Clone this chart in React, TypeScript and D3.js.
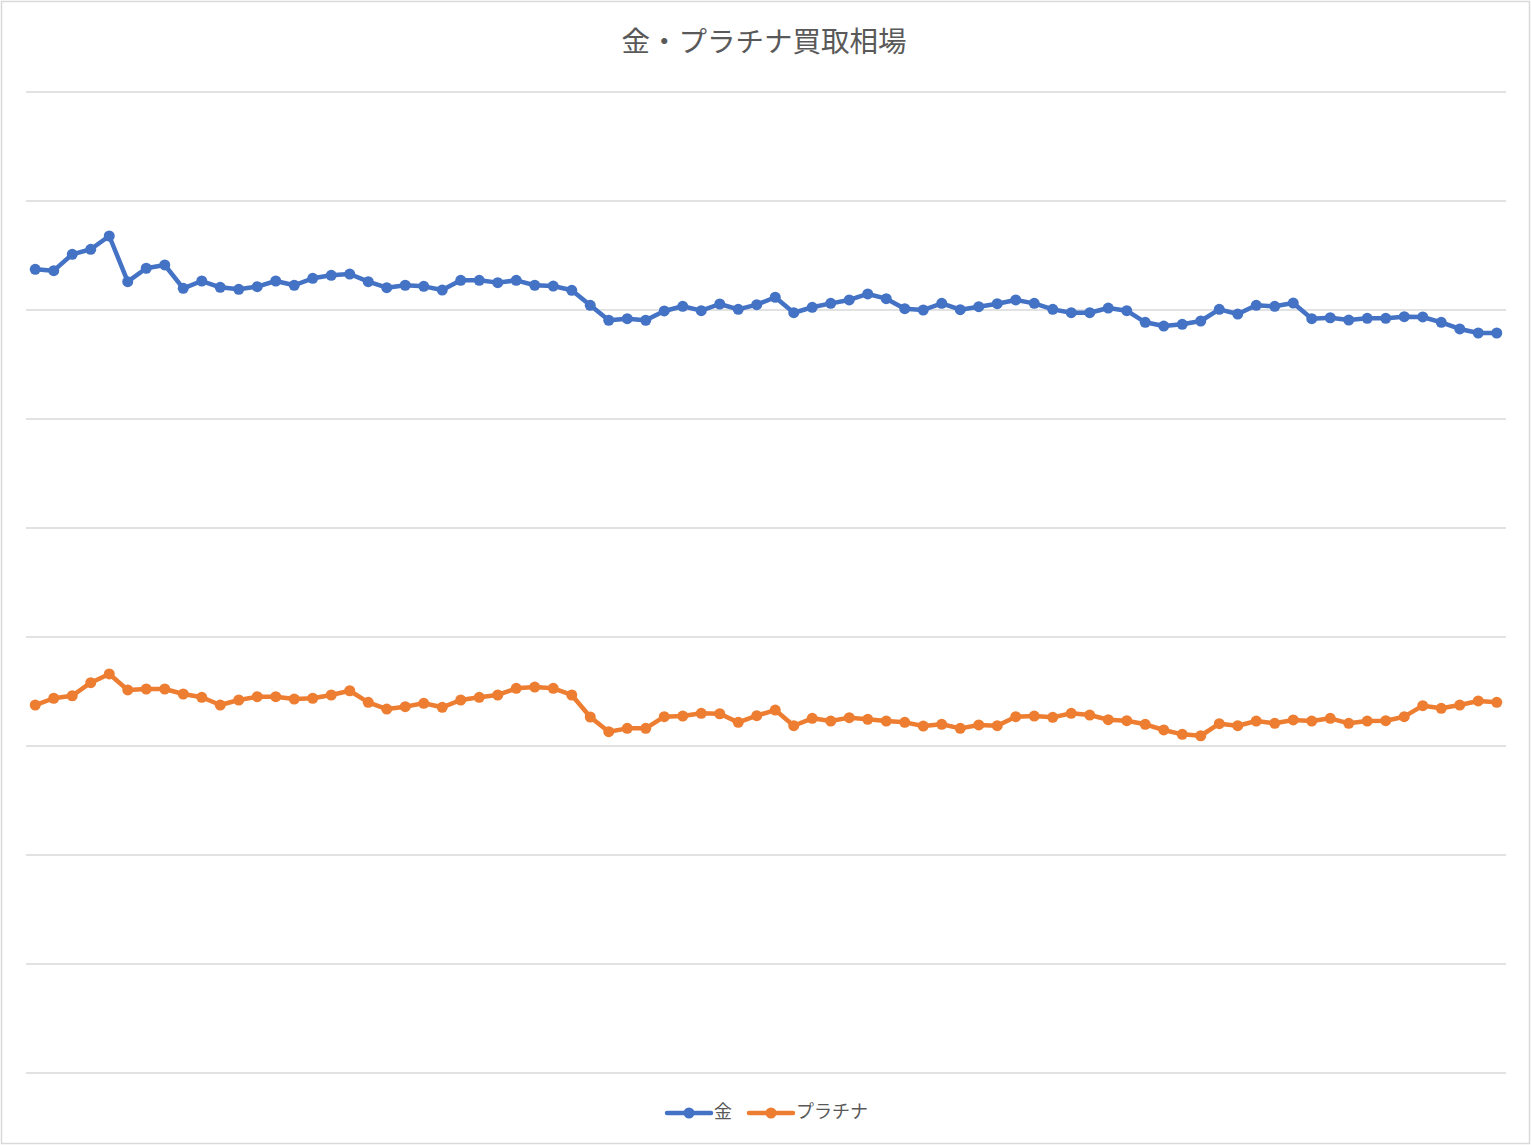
import React from "react";
import * as d3 from "d3";

const title = "金・プラチナ買取相場";
const seriesNames = ["金", "プラチナ"];
const seriesColors = ["#4472C4", "#ED7D31"];
const yTicks = [0, 1000, 2000, 3000, 4000, 5000, 6000, 7000, 8000, 9000];

const gold = [
  7373, 7361, 7511, 7557, 7679, 7260, 7383, 7413, 7199, 7266,
  7208, 7190, 7214, 7266, 7227, 7291, 7318, 7330, 7260, 7205,
  7227, 7217, 7183, 7272, 7272, 7251, 7272, 7227, 7220, 7181,
  7043, 6906, 6920, 6906, 6991, 7034, 6994, 7055, 7006, 7049,
  7117, 6975, 7025, 7061, 7092, 7147, 7104, 7012, 7000, 7061,
  7003, 7030, 7058, 7092, 7061, 7006, 6975, 6975, 7018, 6994,
  6887, 6853, 6869, 6899, 7006, 6963, 7043, 7034, 7064, 6920,
  6929, 6908, 6924, 6924, 6939, 6936, 6887, 6826, 6789, 6789,
];

const platinum = [
  3376, 3438, 3461, 3581, 3661, 3514, 3523, 3523, 3477, 3447,
  3376, 3422, 3452, 3452, 3431, 3438, 3468, 3507, 3401, 3339,
  3361, 3392, 3355, 3422, 3447, 3468, 3529, 3541, 3529, 3468,
  3266, 3131, 3162, 3162, 3269, 3275, 3300, 3296, 3217, 3278,
  3330, 3186, 3254, 3229, 3260, 3245, 3229, 3217, 3183, 3199,
  3162, 3193, 3186, 3269, 3275, 3263, 3300, 3284, 3241, 3232,
  3199, 3147, 3107, 3094, 3205, 3186, 3229, 3208, 3239, 3229,
  3254, 3208, 3229, 3232, 3269, 3370, 3346, 3376, 3413, 3401,
];

const categories = gold.map((_, i) => String(i + 1));

const W = 1531;
const H = 1145;
const FONT = "'Noto Sans CJK JP', 'Noto Sans', sans-serif";

export default function App() {
  const x = d3.scaleBand<string>().domain(categories).range([26, 1506]);
  const y = d3.scaleLinear().domain([0, 9000]).range([1073, 92]);
  const cx = (i: number) => (x(categories[i]) as number) + x.bandwidth() / 2;
  const line = d3
    .line<number>()
    .x((_, i) => cx(i))
    .y((d) => y(d));
  const all = [gold, platinum];

  return (
    <svg
      width={W}
      height={H}
      style={{ position: "absolute", left: 0, top: 0, background: "#fff" }}
    >
      <rect x={1.5} y={1.5} width={1528} height={1142} fill="#fff" stroke="#d9d9d9" strokeWidth={1.5} />
      <text
        x={764}
        y={52}
        textAnchor="middle"
        fontFamily={FONT}
        fontSize={28.5}
        fill="#595959"
      >
        {title}
      </text>
      {yTicks.map((t) => (
        <line key={t} x1={26} x2={1506} y1={y(t)} y2={y(t)} stroke="#d9d9d9" strokeWidth={1.5} />
      ))}
      {all.map((s, k) => (
        <g key={k}>
          <path d={line(s) || ""} fill="none" stroke={seriesColors[k]} strokeWidth={4.5} strokeLinejoin="round" />
          {s.map((v, i) => (
            <circle key={i} cx={cx(i)} cy={y(v)} r={5.5} fill={seriesColors[k]} />
          ))}
        </g>
      ))}
      {seriesNames.map((name, k) => {
        const x0 = k === 0 ? 667 : 749;
        return (
          <g key={name}>
            <line x1={x0} x2={x0 + 44} y1={1113} y2={1113} stroke={seriesColors[k]} strokeWidth={4.5} strokeLinecap="round" />
            <circle cx={x0 + 22} cy={1113} r={5.5} fill={seriesColors[k]} />
            <text x={x0 + 47} y={1118} fontFamily={FONT} fontSize={18} fill="#595959">
              {name}
            </text>
          </g>
        );
      })}
    </svg>
  );
}
